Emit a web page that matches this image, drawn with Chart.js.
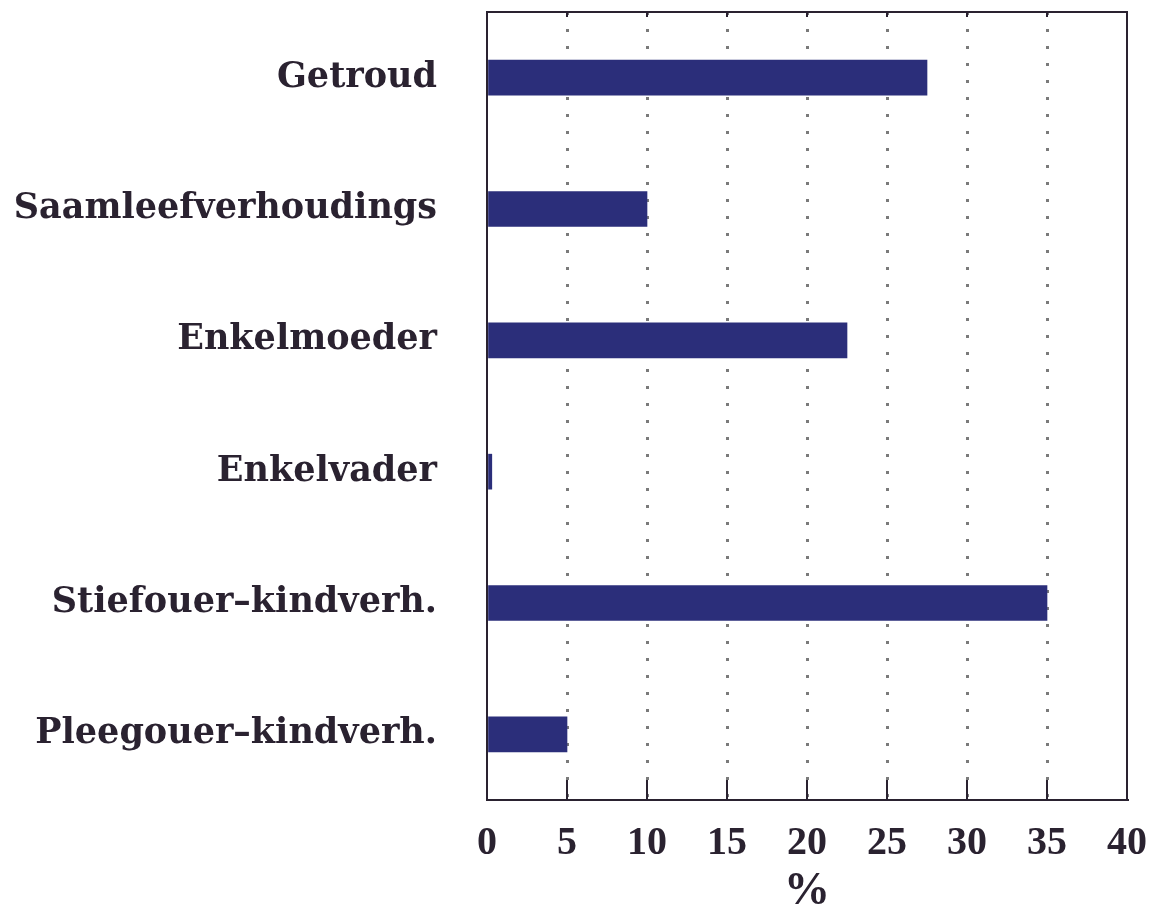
<!DOCTYPE html>
<html>
<head>
<meta charset="utf-8">
<script src="https://cdn.jsdelivr.net/npm/chart.js@4.4.1/dist/chart.umd.min.js"></script>
<style>
  html, body { margin: 0; padding: 0; background: #fff; }
  #wrap { width: 1154px; height: 924px; }
</style>
</head>
<body>
<div id="wrap"><canvas id="myChart" width="1154" height="924"></canvas></div>
<script>
// categories and values
const categories = ['Getroud', 'Saamleefverhoudings', 'Enkelmoeder', 'Enkelvader', 'Stiefouer–kindverh.', 'Pleegouer–kindverh.'];
const percentages = [27.5, 10, 22.5, 0.3, 35, 5];
const xTicks = [0, 5, 10, 15, 20, 25, 30, 35, 40];

const ink = '#2a2230';

// closes the plot box and draws the small inward tick marks
const boxPlugin = {
  id: 'box',
  afterDraw(chart) {
    const {ctx, chartArea: a, scales} = chart;
    ctx.save();
    ctx.strokeStyle = ink;
    ctx.lineWidth = 2;
    xTicks.slice(1, -1).forEach(v => {
      const px = scales.x.getPixelForValue(v);
      ctx.beginPath();
      ctx.moveTo(px, a.bottom);
      ctx.lineTo(px, a.bottom - 20);
      ctx.moveTo(px, a.top);
      ctx.lineTo(px, a.top + 5);
      ctx.stroke();
    });
    ctx.strokeRect(a.left, a.top, a.right - a.left, a.bottom - a.top);
    ctx.restore();
  }
};

new Chart(document.getElementById('myChart'), {
  type: 'bar',
  data: {
    labels: categories,
    datasets: [{
      data: percentages,
      backgroundColor: '#2b2e7a',
      borderWidth: 0,
      barThickness: 35
    }]
  },
  options: {
    indexAxis: 'y',
    responsive: false,
    animation: false,
    layout: { padding: { top: 12, right: 27, left: 0, bottom: 0 } },
    plugins: { legend: { display: false }, tooltip: { enabled: false } },
    scales: {
      x: {
        min: 0,
        max: 40,
        afterBuildTicks: (scale) => { scale.ticks = xTicks.map(v => ({ value: v })); },
        afterFit: (scale) => {
          scale.height = 124;
          scale.paddingLeft = 0;
          scale.paddingRight = 0;
        },
        grid: {
          drawTicks: false,
          color: (c) => (c.tick && (c.tick.value === 0 || c.tick.value === 40)) ? 'rgba(0,0,0,0)' : '#7a7a7a',
          lineWidth: 3
        },
        border: { display: true, color: ink, width: 2, dash: [3, 14], dashOffset: 0 },
        ticks: {
          padding: 20,
          color: ink,
          font: { family: '"Liberation Serif", serif', weight: 'bold', size: 40 }
        },
        title: {
          display: true,
          text: '%',
          color: ink,
          padding: { top: 0, bottom: 4 },
          font: { family: '"Liberation Serif", serif', weight: 'bold', size: 46 }
        }
      },
      y: {
        afterFit: (scale) => {
          scale.width = 487;
          scale.paddingTop = 0;
          scale.paddingBottom = 0;
        },
        grid: { display: false, drawTicks: false },
        border: { display: true, color: ink, width: 2 },
        ticks: {
          padding: 50,
          color: ink,
          font: { family: '"DejaVu Serif", serif', weight: 'bold', size: 35 }
        }
      }
    }
  },
  plugins: [boxPlugin]
});
</script>
</body>
</html>
